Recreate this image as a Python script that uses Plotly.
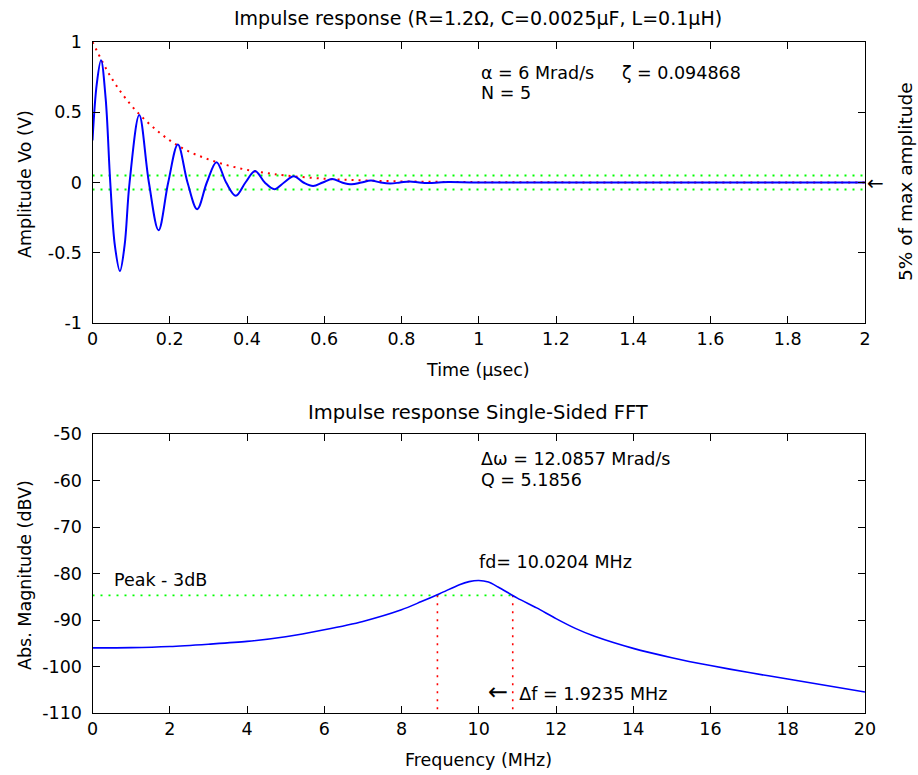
import plotly.graph_objects as go

# ---------------- data ----------------
# Top: impulse response (time in microseconds, amplitude in volts)
t_resp = [0.0, 0.011, 0.022, 0.034, 0.046, 0.058, 0.071, 0.083, 0.096,
          0.121, 0.146, 0.171, 0.196, 0.221, 0.246, 0.271, 0.296, 0.321,
          0.346, 0.371, 0.396, 0.421, 0.446, 0.471, 0.496, 0.521, 0.546,
          0.571, 0.596, 0.621, 0.646, 0.671, 0.696, 0.721, 0.746, 0.771,
          0.796, 0.821, 0.846, 0.871, 0.896, 0.921, 1.0, 1.5, 2.0]
v_resp = [0.30, 0.70, 0.87, 0.60, 0.0, -0.45, -0.63, -0.45, 0.0,
          0.48, 0.0, -0.34, 0.0, 0.27, 0.0, -0.19, 0.0, 0.145,
          0.0, -0.095, 0.0, 0.082, 0.0, -0.048, 0.0, 0.045, 0.0,
          -0.025, 0.0, 0.025, 0.0, -0.013, 0.0, 0.014, 0.0, -0.007,
          0.0, 0.008, 0.0, -0.004, 0.0, 0.004, 0.0, 0.0, 0.0]

# Envelope (red dotted)
t_env = [0.0, 0.05, 0.1, 0.15, 0.2, 0.25, 0.3, 0.35, 0.4, 0.45, 0.5,
         0.6, 0.7, 0.8, 0.9, 1.0, 1.2, 1.5, 2.0]
v_env = [1.0, 0.74, 0.55, 0.41, 0.30, 0.22, 0.165, 0.122, 0.09, 0.067, 0.05,
         0.027, 0.015, 0.008, 0.0045, 0.0025, 0.001, 0.0, 0.0]

# 5 % band (green dotted)
band_t = [0.0, 2.0]
band_hi = [0.05, 0.05]
band_lo = [-0.05, -0.05]

# Bottom: single-sided FFT magnitude (MHz, dBV)
f_fft = [0, 1, 2, 3, 4, 5, 6, 7, 8, 8.5, 9, 9.5, 9.75, 10, 10.25, 10.5, 11,
         11.5, 12, 12.5, 13, 14, 15, 16, 17, 18, 19, 20]
m_fft = [-96.0, -95.95, -95.7, -95.2, -94.6, -93.6, -92.1, -90.3, -87.8,
         -86.1, -84.3, -82.4, -81.75, -81.5, -81.85, -82.9, -85.3,
         -87.4, -89.7, -91.8, -93.5, -96.1, -98.1, -99.8, -101.3, -102.7,
         -104.1, -105.5]

# -3 dB markers
f3_low, f3_high = 8.93, 10.88
level_3db = -84.7

# Tick values / labels
x1_ticks = [0, 0.2, 0.4, 0.6, 0.8, 1, 1.2, 1.4, 1.6, 1.8, 2]
x1_text = ["0", "0.2", "0.4", "0.6", "0.8", "1", "1.2", "1.4", "1.6", "1.8", "2"]
y1_ticks = [-1, -0.5, 0, 0.5, 1]
y1_text = ["-1", "-0.5", "0", "0.5", "1"]
x2_ticks = [0, 2, 4, 6, 8, 10, 12, 14, 16, 18, 20]
x2_text = [str(v) for v in x2_ticks]
y2_ticks = [-110, -100, -90, -80, -70, -60, -50]
y2_text = ["-110", "-100", "-90", "-80", "-70", "-60", "-50"]

FONT = "DejaVu Sans"
FS = 17.5
BLACK = "#000000"

fig = go.Figure()

# top plot traces
fig.add_trace(go.Scatter(x=t_env, y=v_env, mode="lines",
                         line=dict(color="#ff0000", width=2, dash="2px,5px", shape="spline"),
                         xaxis="x", yaxis="y", hoverinfo="skip"))
fig.add_trace(go.Scatter(x=band_t, y=band_hi, mode="lines",
                         line=dict(color="#00ff00", width=2, dash="2px,6px"),
                         xaxis="x", yaxis="y"))
fig.add_trace(go.Scatter(x=band_t, y=band_lo, mode="lines",
                         line=dict(color="#00ff00", width=2, dash="2px,6px"),
                         xaxis="x", yaxis="y"))
fig.add_trace(go.Scatter(x=t_resp, y=v_resp, mode="lines",
                         line=dict(color="#0000ff", width=2, shape="spline", smoothing=1.0),
                         xaxis="x", yaxis="y"))

# bottom plot traces
fig.add_trace(go.Scatter(x=[0, f3_high], y=[level_3db, level_3db], mode="lines",
                         line=dict(color="#00ff00", width=1.6, dash="2px,6px"),
                         xaxis="x2", yaxis="y2"))
fig.add_trace(go.Scatter(x=[f3_low, f3_low], y=[level_3db, -110], mode="lines",
                         line=dict(color="#ff0000", width=1.6, dash="2px,6px"),
                         xaxis="x2", yaxis="y2"))
fig.add_trace(go.Scatter(x=[f3_high, f3_high], y=[level_3db, -110], mode="lines",
                         line=dict(color="#ff0000", width=1.6, dash="2px,6px"),
                         xaxis="x2", yaxis="y2"))
fig.add_trace(go.Scatter(x=f_fft, y=m_fft, mode="lines",
                         line=dict(color="#0000ff", width=1.6, shape="spline", smoothing=0.8),
                         xaxis="x2", yaxis="y2"))

axis_common = dict(showline=True, linecolor=BLACK, linewidth=1, mirror="ticks",
                   ticks="inside", ticklen=7, tickcolor=BLACK, showgrid=False,
                   zeroline=False, automargin=False,
                   tickfont=dict(family=FONT, size=FS, color=BLACK))

fig.update_layout(
    width=918, height=775,
    margin=dict(l=0, r=0, t=0, b=0, autoexpand=False),
    paper_bgcolor="white", plot_bgcolor="white",
    showlegend=False,
    font=dict(family=FONT, size=FS, color=BLACK),
    xaxis=dict(domain=[92.5 / 918, 865 / 918], range=[0, 2], tickvals=x1_ticks, ticktext=x1_text,
               anchor="y", **axis_common),
    yaxis=dict(domain=[1 - 323 / 775, 1 - 42 / 775], range=[-1, 1], tickvals=y1_ticks,
               ticktext=y1_text, anchor="x", ticklabelstandoff=6, **axis_common),
    xaxis2=dict(domain=[92.5 / 918, 865 / 918], range=[0, 20], tickvals=x2_ticks, ticktext=x2_text,
                anchor="y2", **axis_common),
    yaxis2=dict(domain=[1 - 713 / 775, 1 - 434 / 775], range=[-110, -50], tickvals=y2_ticks,
                ticktext=y2_text, anchor="x2", ticklabelstandoff=6, **axis_common),
)

def txt(text, x, y, xref, yref, xanchor="left", yanchor="middle", angle=0, size=FS):
    fig.add_annotation(text=text, x=x, y=y, xref=xref, yref=yref, showarrow=False,
                       xanchor=xanchor, yanchor=yanchor, textangle=angle,
                       font=dict(family=FONT, size=size, color=BLACK))

# titles & axis labels
txt("Impulse response (R=1.2\u03a9, C=0.0025\u00b5F, L=0.1\u00b5H)", 478 / 918, 1 - 18 / 775,
    "paper", "paper", xanchor="center", size=19)
txt("Time (\u00b5sec)", 478 / 918, 1 - 370 / 775, "paper", "paper", xanchor="center")
txt("Amplitude Vo (V)", 25 / 918, 1 - 184 / 775, "paper", "paper", xanchor="center", angle=-90)
txt("Impulse response Single-Sided FFT", 478 / 918, 1 - 412 / 775, "paper", "paper",
    xanchor="center", size=19.5)
txt("Frequency (MHz)", 478 / 918, 1 - 760 / 775, "paper", "paper", xanchor="center")
txt("Abs. Magnitude (dBV)", 25 / 918, 1 - 575 / 775, "paper", "paper", xanchor="center", angle=-90)
txt("5% of max amplitude", 905 / 918, 1 - 182 / 775, "paper", "paper", xanchor="center",
    angle=-90, size=18.5)

# in-plot text, top
txt("\u03b1 = 6 Mrad/s     \u03b6 = 0.094868", 1.0, 0.776, "x", "y")
txt("N = 5", 1.0, 0.634, "x", "y")
txt("\u2190", 2.0, 0.0, "x", "y", size=20)

# in-plot text, bottom
txt("\u0394\u03c9 = 12.0857 Mrad/s", 10.0, -55.3, "x2", "y2")
txt("Q = 5.1856", 10.0, -59.8, "x2", "y2")
txt("fd= 10.0204 MHz", 9.95, -77.5, "x2", "y2")
txt("Peak - 3dB", 0.5, -81.5, "x2", "y2")
txt("<span style='font-size:24px'>\u2190</span>  \u0394f = 1.9235 MHz", 10.2, -105.5, "x2", "y2")

fig.write_html("out.html")
